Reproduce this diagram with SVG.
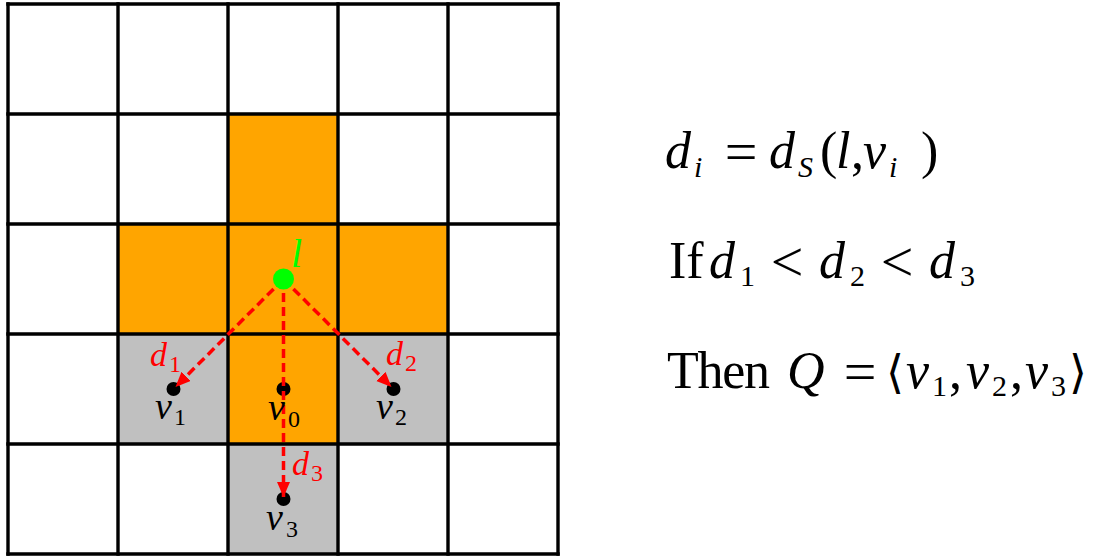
<svg xmlns="http://www.w3.org/2000/svg" width="1096" height="556" viewBox="0 0 1096 556">
<style>
.o{fill:#FFA500}
.g{fill:#C0C0C0}
.grid{stroke:#000;stroke-width:3.4;fill:none;stroke-linecap:square}
.dash{stroke:#FF0000;stroke-width:3.5;stroke-dasharray:9 5;fill:none}
text{font-family:'Liberation Serif',serif}
.i{font-style:italic}
.red{fill:#FF0000}
.op{font-size:58px}
</style>
<defs>
<marker id="ah" markerUnits="userSpaceOnUse" markerWidth="16" markerHeight="14" refX="15" refY="6.5" orient="auto">
<path d="M0,0 L15,6.5 L0,13 z" fill="#FF0000"/>
</marker>
</defs>
<rect width="1096" height="556" fill="#fff"/>
<g id="cells">
<rect class="o" x="228" y="114" width="110" height="110"/>
<rect class="o" x="118" y="224" width="110" height="110"/>
<rect class="o" x="228" y="224" width="110" height="110"/>
<rect class="o" x="338" y="224" width="110" height="110"/>
<rect class="o" x="228" y="334" width="110" height="110"/>
<rect class="g" x="118" y="334" width="110" height="110"/>
<rect class="g" x="338" y="334" width="110" height="110"/>
<rect class="g" x="228" y="444" width="110" height="110"/>
</g>
<g id="grid" class="grid">
<path d="M8,4 V554 M118,4 V554 M228,4 V554 M338,4 V554 M448,4 V554 M558,4 V554"/>
<path d="M8,4 H558 M8,114 H558 M8,224 H558 M8,334 H558 M8,444 H558 M8,554 H558"/>
</g>
<g id="v1"><circle cx="173.5" cy="389" r="7"/></g>
<g id="v0"><circle cx="283.5" cy="389" r="7"/></g>
<g id="v2"><circle cx="393.5" cy="389" r="7"/></g>
<g id="v3"><circle cx="283.5" cy="499" r="7"/></g>
<g id="connectors">
<path class="dash" d="M283.5,279 L175.5,387" marker-end="url(#ah)"/>
<path class="dash" d="M283.5,279 L391.5,387" marker-end="url(#ah)"/>
<path class="dash" d="M283.5,279 L283.5,497" marker-end="url(#ah)"/>
</g>
<g id="l">
<circle cx="283.5" cy="279" r="10.5" fill="#00FF00"/>
<text class="i" x="291" y="267" font-size="40" fill="#00FF00">l</text>
</g>
<g id="labels">
<text class="i red" x="150" y="366" font-size="34">d</text><text class="red" x="169" y="372" font-size="24">1</text>
<text class="i red" x="386" y="365" font-size="34">d</text><text class="red" x="405" y="371" font-size="24">2</text>
<text class="i red" x="292" y="475" font-size="34">d</text><text class="red" x="311" y="481" font-size="24">3</text>
<text class="i" x="155" y="419" font-size="38">v</text><text x="174" y="425" font-size="24">1</text>
<text class="i" x="268" y="420" font-size="38">v</text><text x="288" y="427" font-size="24">0</text>
<text class="i" x="376" y="419" font-size="38">v</text><text x="395" y="425" font-size="24">2</text>
<text class="i" x="266" y="530" font-size="38">v</text><text x="286" y="537" font-size="24">3</text>
</g>
<g id="formula1" font-size="52">
<text class="i" x="665" y="168">d</text>
<text class="i" x="694" y="177" font-size="30">i</text>
<text class="op" x="741" y="171" text-anchor="middle">=</text>
<text class="i" x="769" y="168">d</text>
<text class="i" x="798" y="177" font-size="30">S</text>
<text x="820" y="168">(</text>
<text class="i" x="836" y="168">l</text>
<text x="851" y="168">,</text>
<text class="i" x="863" y="168">v</text>
<text class="i" x="889" y="177" font-size="30">i</text>
<text x="921" y="168">)</text>
</g>
<g id="formula2" font-size="52">
<text x="669" y="278">If</text>
<text class="i" x="709" y="278">d</text>
<text x="740" y="286" font-size="30">1</text>
<text class="op" x="787" y="281" text-anchor="middle">&lt;</text>
<text class="i" x="819" y="278">d</text>
<text x="850" y="286" font-size="30">2</text>
<text class="op" x="897" y="281" text-anchor="middle">&lt;</text>
<text class="i" x="929" y="278">d</text>
<text x="960" y="286" font-size="30">3</text>
</g>
<g id="formula3" font-size="52">
<text x="667" y="388" textLength="103">Then</text>
<text class="i" x="787" y="388">Q</text>
<text class="op" x="860" y="391" text-anchor="middle">=</text>
<text x="886" y="388" font-size="46">⟨</text>
<text class="i" x="906" y="388">v</text>
<text x="932" y="396" font-size="30">1</text>
<text x="949" y="388">,</text>
<text class="i" x="966" y="388">v</text>
<text x="992" y="396" font-size="30">2</text>
<text x="1010" y="388">,</text>
<text class="i" x="1025" y="388">v</text>
<text x="1051" y="396" font-size="30">3</text>
<text x="1069" y="388" font-size="46">⟩</text>
</g>
</svg>
